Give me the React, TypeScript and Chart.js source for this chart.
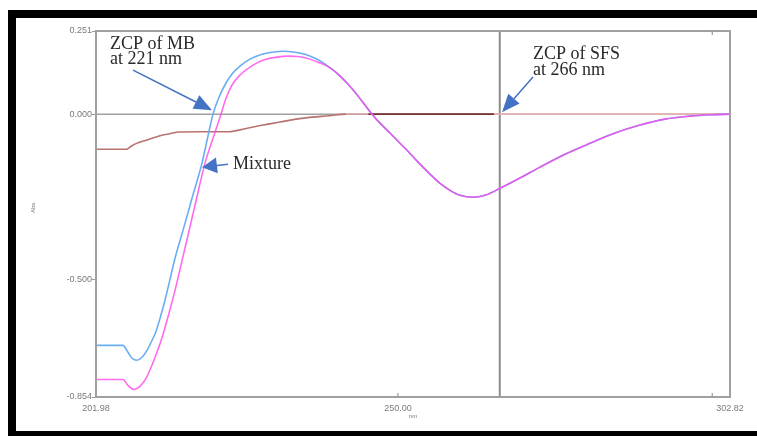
import React, { useEffect, useRef } from "react";
import { Chart, registerables } from "chart.js";

Chart.register(...registerables);

// ---- axis ranges / ticks ----
const X_MIN = 201.98;
const X_MAX = 302.82;
const Y_MIN = -0.854;
const Y_MAX = 0.251;
const xTickValues = [201.98, 250.0, 302.82];
const yTickValues = [-0.854, -0.5, 0, 0.251];
const innerXTicks = [250, 300];
const zcpSfsNm = 266.2;

// ---- MB (blue) ----
const mbNm = [201.98, 206.27, 207.07, 207.71, 208.5, 209.3, 210.09, 210.89, 211.52, 212.16, 212.95, 213.75, 214.55, 215.82, 217.25, 218.84, 219.79, 220.59, 221.54, 222.66, 223.61, 224.88, 226.47, 228.38, 229.97, 231.88, 233.63, 235.22, 236.81, 237.93, 239.04, 240.47, 241.74, 243.02, 244.29, 245.88, 247.15, 248.74, 250.33, 251.45, 253.2, 255.1, 256.7, 258.29, 259.88, 261.94, 263.85, 266.24, 269.42, 272.6, 276.58, 280.55, 284.53, 288.51, 292.48, 296.46, 299.64, 302.82];
const mbAbs = [-0.698, -0.698, -0.719, -0.737, -0.743, -0.734, -0.713, -0.683, -0.656, -0.617, -0.562, -0.499, -0.435, -0.351, -0.254, -0.148, -0.066, 0.0, 0.051, 0.094, 0.121, 0.145, 0.166, 0.181, 0.187, 0.19, 0.187, 0.181, 0.169, 0.157, 0.142, 0.121, 0.097, 0.07, 0.039, 0.0, -0.027, -0.057, -0.088, -0.109, -0.145, -0.181, -0.209, -0.23, -0.245, -0.251, -0.245, -0.224, -0.193, -0.16, -0.121, -0.088, -0.057, -0.033, -0.015, -0.006, -0.002, 0.0];

// ---- Mixture (magenta) ----
const mixNm = [201.98, 206.27, 207.07, 208.02, 208.98, 209.93, 210.73, 211.68, 212.64, 213.59, 214.55, 215.5, 216.61, 217.73, 219.32, 220.59, 221.86, 222.66, 223.61, 224.88, 226.95, 228.86, 230.77, 232.52, 234.11, 235.54, 237.29, 239.04, 240.47, 241.74, 243.02, 244.29, 245.88, 247.15, 248.74, 250.33, 251.45, 253.2, 255.1, 256.7, 258.29, 259.88, 261.94, 263.85, 266.24, 269.42, 272.6, 276.58, 280.55, 284.53, 288.51, 292.48, 296.46, 299.64, 302.82];
const mixAbs = [-0.801, -0.801, -0.819, -0.831, -0.822, -0.798, -0.765, -0.719, -0.665, -0.601, -0.532, -0.456, -0.366, -0.275, -0.148, -0.073, 0.0, 0.048, 0.088, 0.118, 0.148, 0.165, 0.172, 0.175, 0.174, 0.169, 0.157, 0.142, 0.121, 0.097, 0.07, 0.039, 0.0, -0.027, -0.057, -0.088, -0.109, -0.145, -0.181, -0.209, -0.23, -0.245, -0.251, -0.245, -0.224, -0.193, -0.16, -0.121, -0.088, -0.057, -0.033, -0.015, -0.006, -0.002, 0.0];

// ---- SFS (brown) ----
const sfsNm = [201.98, 206.75, 207.55, 208.34, 209.93, 212.16, 213.75, 215.18, 218.52, 223.13, 225.68, 228.54, 231.25, 233.79, 236.34, 239.04, 241.74, 245.3, 265.3, 302.82];
const sfsAbs = [-0.106, -0.106, -0.097, -0.089, -0.079, -0.065, -0.059, -0.054, -0.053, -0.053, -0.044, -0.033, -0.024, -0.015, -0.009, -0.005, 0.0, 0.0, 0.0, 0.0];

// ---- annotations (anchors in data units) ----
const noteLines = [["ZCP of MB", "at 221 nm"], ["ZCP of SFS", "at 266 nm"], ["Mixture"]];
const noteTextNm = [204.21, 271.49, 223.77];
const noteTextAbs = [0.198, 0.165, -0.166];
const arrowTailNm = [207.87, 271.49, 222.98];
const arrowTailAbs = [0.133, 0.112, -0.151];
const arrowTipNm = [220.43, 266.56, 218.84];
const arrowTipAbs = [0.012, 0.006, -0.16];

function drawArrow(ctx: CanvasRenderingContext2D, x1: number, y1: number, x2: number, y2: number, headLen: number, headHalf: number) {
  const ang = Math.atan2(y2 - y1, x2 - x1);
  const bx = x2 - headLen * Math.cos(ang);
  const by = y2 - headLen * Math.sin(ang);
  ctx.beginPath();
  ctx.moveTo(x1, y1);
  ctx.lineTo(bx, by);
  ctx.stroke();
  ctx.beginPath();
  ctx.moveTo(x2, y2);
  ctx.lineTo(bx + headHalf * Math.sin(ang), by - headHalf * Math.cos(ang));
  ctx.lineTo(bx - headHalf * Math.sin(ang), by + headHalf * Math.cos(ang));
  ctx.closePath();
  ctx.fill();
}

const overlayPlugin = {
  id: "overlay",
  beforeDatasetsDraw(chart: any) {
    const { ctx, chartArea: a, scales } = chart;
    const x = scales.x, y = scales.y;
    ctx.save();
    const y0 = y.getPixelForValue(0);
    ctx.strokeStyle = "#a0a0a0";
    ctx.lineWidth = 1.5;
    ctx.beginPath();
    ctx.moveTo(a.left, y0);
    ctx.lineTo(a.right, y0);
    ctx.stroke();
    const xv = x.getPixelForValue(zcpSfsNm);
    ctx.strokeStyle = "#8c8c8c";
    ctx.lineWidth = 2;
    ctx.beginPath();
    ctx.moveTo(xv, a.top);
    ctx.lineTo(xv, a.bottom);
    ctx.stroke();
    ctx.restore();
  },
  afterDatasetsDraw(chart: any) {
    const { ctx, chartArea: a, scales } = chart;
    const x = scales.x, y = scales.y;
    ctx.save();
    // plot frame
    ctx.strokeStyle = "#a0a0a0";
    ctx.lineWidth = 2;
    ctx.strokeRect(a.left, a.top, a.right - a.left, a.bottom - a.top);
    // inner ticks
    ctx.lineWidth = 1.2;
    ctx.strokeStyle = "#999";
    innerXTicks.forEach((v, i) => {
      const px = x.getPixelForValue(v);
      ctx.beginPath();
      ctx.moveTo(px, a.bottom);
      ctx.lineTo(px, a.bottom - 4);
      ctx.stroke();
      if (i === innerXTicks.length - 1) {
        ctx.beginPath();
        ctx.moveTo(px, a.top);
        ctx.lineTo(px, a.top + 4);
        ctx.stroke();
      }
    });
    // axis titles
    ctx.fillStyle = "#777";
    ctx.font = "6px 'Liberation Sans', Arial, sans-serif";
    ctx.textAlign = "center";
    ctx.textBaseline = "middle";
    ctx.fillText("nm", (a.left + a.right) / 2, a.bottom + 19);
    ctx.save();
    ctx.translate(33, (a.top + a.bottom) / 2 - 7);
    ctx.rotate(-Math.PI / 2);
    ctx.fillText("Abs.", 0, 0);
    ctx.restore();
    // annotations
    ctx.fillStyle = "#2a2a2a";
    ctx.font = "18px 'Liberation Serif', 'Times New Roman', serif";
    ctx.textAlign = "left";
    ctx.textBaseline = "alphabetic";
    noteLines.forEach((lines, i) => {
      const tx = x.getPixelForValue(noteTextNm[i]);
      const ty = y.getPixelForValue(noteTextAbs[i]);
      lines.forEach((s, j) => ctx.fillText(s, tx, ty + j * 15.5));
    });
    ctx.strokeStyle = "#4472c4";
    ctx.fillStyle = "#4472c4";
    ctx.lineWidth = 1.5;
    arrowTailNm.forEach((_, i) => {
      drawArrow(
        ctx,
        x.getPixelForValue(arrowTailNm[i]),
        y.getPixelForValue(arrowTailAbs[i]),
        x.getPixelForValue(arrowTipNm[i]),
        y.getPixelForValue(arrowTipAbs[i]),
        i === 2 ? 15 : 18,
        i === 2 ? 8 : 7.5
      );
    });
    ctx.restore();
  },
};

const toPoints = (xs: number[], ys: number[]) => xs.map((v, i) => ({ x: v, y: ys[i] }));

export default function App() {
  const ref = useRef<HTMLCanvasElement | null>(null);
  useEffect(() => {
    if (!ref.current) return;
    const tickFont = { family: "'Liberation Sans', Arial, sans-serif", size: 9 };
    const chart = new Chart(ref.current, {
      type: "line",
      data: {
        datasets: [
          {
            label: "MB",
            data: toPoints(mbNm, mbAbs),
            borderColor: "#68aef3",
            borderWidth: 1.6,
            pointRadius: 0,
            cubicInterpolationMode: "monotone",
            order: 2,
          },
          {
            label: "Mixture",
            data: toPoints(mixNm, mixAbs),
            borderColor: "rgba(255,70,235,0.8)",
            borderWidth: 1.6,
            pointRadius: 0,
            cubicInterpolationMode: "monotone",
            order: 1,
          },
          {
            label: "SFS",
            data: toPoints(sfsNm, sfsAbs),
            borderColor: "#b87272",
            borderWidth: 1.6,
            pointRadius: 0,
            cubicInterpolationMode: "monotone",
            order: 3,
            segment: {
              borderColor: (c: any) => {
                const x0 = c.p0.parsed.x;
                if (x0 >= 265) return "#e4b0b0";
                if (x0 >= 245) return "#7b2d2d";
                if (x0 >= 241.7) return "#d4a0a0";
                return "#b87272";
              },
            },
          },
        ],
      },
      options: {
        responsive: false,
        animation: false,
        devicePixelRatio: 1,
        layout: { padding: { top: 31, right: 27, left: 0, bottom: 0 } },
        plugins: { legend: { display: false }, tooltip: { enabled: false } },
        scales: {
          x: {
            type: "linear",
            min: X_MIN,
            max: X_MAX,
            afterBuildTicks: (s: any) => {
              s.ticks = xTickValues.map((v) => ({ value: v }));
            },
            afterFit: (s: any) => {
              s.height = 39;
              s.paddingLeft = 0;
              s.paddingRight = 0;
            },
            grid: { display: false },
            border: { display: false },
            ticks: {
              autoSkip: false,
              maxRotation: 0,
              padding: -2,
              color: "#7a7a7a",
              font: tickFont,
              callback: (v: any) => Number(v).toFixed(2),
            },
          },
          y: {
            type: "linear",
            min: Y_MIN,
            max: Y_MAX,
            afterBuildTicks: (s: any) => {
              s.ticks = yTickValues.map((v) => ({ value: v }));
            },
            afterFit: (s: any) => {
              s.width = 96;
              s.paddingTop = 0;
              s.paddingBottom = 0;
            },
            grid: { drawOnChartArea: false, drawTicks: true, tickLength: 4, tickColor: "#999", color: "#999" },
            border: { display: false },
            ticks: {
              autoSkip: false,
              padding: 0,
              color: "#7a7a7a",
              font: tickFont,
              callback: (v: any) => Number(v).toFixed(3),
            },
          },
        },
      },
      plugins: [overlayPlugin],
    } as any);
    return () => chart.destroy();
  }, []);

  return (
    <>
      <canvas
        ref={ref}
        width={757}
        height={436}
        style={{ position: "fixed", left: 0, top: 0, width: 757, height: 436 }}
      />
      <div
        style={{
          position: "fixed",
          left: 8,
          top: 10,
          width: 760,
          height: 429,
          border: "8px solid #000",
          boxSizing: "border-box",
          pointerEvents: "none",
          zIndex: 1,
        }}
      />
    </>
  );
}
